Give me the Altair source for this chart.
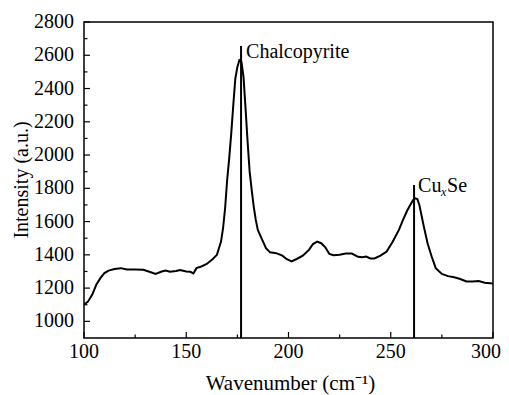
import altair as alt
import pandas as pd

# Raman spectrum
wavenumber = [100, 102, 104, 106, 108, 110, 112, 115, 118, 121, 125, 129, 132, 135, 138, 140, 142, 145, 147, 150,
              152, 153.5, 155, 157, 160, 163, 165, 167, 168, 169, 170, 171, 172, 173, 174, 175, 176, 177, 178, 179,
              180, 181, 182, 183, 184, 185, 187, 189, 191, 194, 197, 199, 201.5, 204, 207, 210, 212, 214, 216, 218,
              220, 222, 225, 228, 231, 234, 236, 238, 240, 242, 245, 248, 251, 254, 256, 258, 260, 261, 262, 263,
              264, 265, 266, 268, 270, 272, 275, 278, 281, 284, 287, 290, 293, 296, 300]
intensity = [1100, 1120, 1160, 1220, 1260, 1290, 1305, 1315, 1320, 1312, 1312, 1310, 1298, 1285, 1300, 1305, 1298, 1303, 1309, 1300,
             1298, 1288, 1320, 1328, 1345, 1375, 1400, 1480, 1560, 1680, 1850, 1980, 2130, 2300, 2460, 2530, 2570, 2560, 2470, 2280,
             2080, 1900, 1790, 1690, 1610, 1550, 1495, 1440, 1415, 1410, 1395, 1375, 1360, 1375, 1395, 1430, 1465, 1480, 1470, 1445,
             1405, 1398, 1400, 1408, 1408, 1388, 1385, 1390, 1378, 1378, 1395, 1420, 1480, 1550, 1610, 1665, 1710, 1730, 1740, 1735,
             1700, 1640, 1580, 1470, 1390, 1320, 1285, 1272, 1265, 1255, 1240, 1240, 1242, 1232, 1228]

# Peak markers
marker_pos = [176.8, 261.4]
marker_top = [2656, 1820]

# Axis ticks and titles
x_major = [100, 150, 200, 250, 300]
x_minor = [125, 175, 225, 275]
y_major = [1000, 1200, 1400, 1600, 1800, 2000, 2200, 2400, 2600, 2800]
y_minor = [1100, 1300, 1500, 1700, 1900, 2100, 2300, 2500, 2700]
x_title = "Wavenumber (cm\u207b\u00b9)"
y_title = "Intensity (a.u.)"

FONT = "Liberation Serif"
FS = 20
TFS = 21
W, H = 409, 316

spec = pd.DataFrame({"w": wavenumber, "i": intensity})
markers = pd.DataFrame({"w": marker_pos, "top": marker_top, "base": [900, 900]})

xs = alt.Scale(domain=[100, 300], nice=False, zero=False)
ys = alt.Scale(domain=[900, 2800], nice=False, zero=False)
X = lambda f: alt.X(f, scale=xs, axis=None)
Y = lambda f: alt.Y(f, scale=ys, axis=None)

line = alt.Chart(spec).mark_line(color="black", strokeWidth=2).encode(x=X("w:Q"), y=Y("i:Q"))

rules = alt.Chart(markers).mark_rule(color="black", strokeWidth=2).encode(x=X("w:Q"), y=Y("base:Q"), y2="top:Q")

def label(text, wv, iv, dx, dy, size=FS, style="normal"):
    return alt.Chart(pd.DataFrame({"w": [wv], "i": [iv], "t": [text]})).mark_text(
        font=FONT, fontSize=size, fontStyle=style, align="left", baseline="alphabetic", dx=dx, dy=dy, color="black"
    ).encode(x=X("w:Q"), y=Y("i:Q"), text="t:N")

chalco = label("Chalcopyrite", marker_pos[0], marker_top[0], 5, 12)
cu = label("Cu", marker_pos[1], marker_top[1], 4, 7)
sub = label("x", marker_pos[1], marker_top[1], 27, 11, size=12, style="italic")
se = label("Se", marker_pos[1], marker_top[1], 33, 7)

def xticks(vals, length):
    return alt.Chart(pd.DataFrame({"v": vals})).mark_rule(color="black", strokeWidth=1.2).encode(
        x=X("v:Q"), y=alt.value(H), y2=alt.value(H - length))

def yticks(vals, length):
    return alt.Chart(pd.DataFrame({"v": vals})).mark_rule(color="black", strokeWidth=1.2).encode(
        y=Y("v:Q"), x=alt.value(0), x2=alt.value(length))

xlab = alt.Chart(pd.DataFrame({"v": x_major[:-1]})).mark_text(
    font=FONT, fontSize=FS, align="center", baseline="middle", color="black"
).encode(x=X("v:Q"), y=alt.value(H + 14), text=alt.Text("v:Q", format="d"))
xlab_last = alt.Chart(pd.DataFrame({"v": x_major[-1:]})).mark_text(
    font=FONT, fontSize=FS, align="right", baseline="middle", dx=8, color="black"
).encode(x=X("v:Q"), y=alt.value(H + 14), text=alt.Text("v:Q", format="d"))
ylab = alt.Chart(pd.DataFrame({"v": y_major})).mark_text(
    font=FONT, fontSize=FS, align="right", baseline="middle", color="black"
).encode(y=Y("v:Q"), x=alt.value(-10), text=alt.Text("v:Q", format="d"))

xt = alt.Chart(pd.DataFrame({"t": [x_title]})).mark_text(
    font=FONT, fontSize=TFS, align="center", baseline="middle", color="black"
).encode(x=alt.value(W / 2 + 2), y=alt.value(H + 46), text="t:N")
yt = alt.Chart(pd.DataFrame({"t": [y_title]})).mark_text(
    font=FONT, fontSize=20, align="center", baseline="middle", angle=270, color="black"
).encode(x=alt.value(-62), y=alt.value(H / 2), text="t:N")

chart = alt.layer(
    line, rules, chalco, cu, sub, se,
    xticks(x_major, 6), xticks(x_minor, 3.5), yticks(y_major, 6), yticks(y_minor, 3.5),
    xlab, xlab_last, ylab, xt, yt,
).properties(
    width=W, height=H,
    autosize=alt.AutoSizeParams(type="none"),
    padding={"left": 76, "top": 14, "right": 8, "bottom": 57},
    background="white",
).configure_view(stroke="black", strokeWidth=1.5).configure_text(font=FONT)

chart.save("out.html", embed_options={"renderer": "svg", "actions": False})
